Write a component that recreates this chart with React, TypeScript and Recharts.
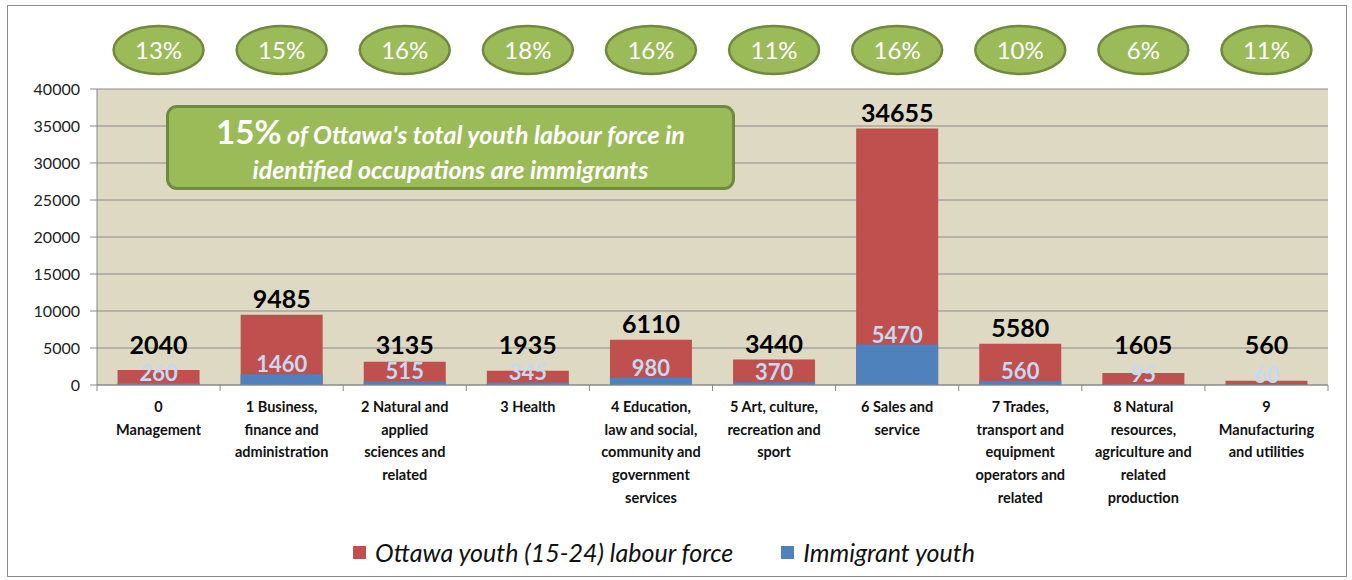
import { BarChart, Bar, XAxis, YAxis, CartesianGrid, LabelList, Legend } from "recharts"

const categories = [
  "0\nManagement",
  "1 Business,\nfinance and\nadministration",
  "2 Natural and\napplied\nsciences and\nrelated",
  "3 Health",
  "4 Education,\nlaw and social,\ncommunity and\ngovernment\nservices",
  "5 Art, culture,\nrecreation and\nsport",
  "6 Sales and\nservice",
  "7 Trades,\ntransport and\nequipment\noperators and\nrelated",
  "8 Natural\nresources,\nagriculture and\nrelated\nproduction",
  "9\nManufacturing\nand utilities",
]
const totalYouth = [2040, 9485, 3135, 1935, 6110, 3440, 34655, 5580, 1605, 560]
const immigrantYouth = [260, 1460, 515, 345, 980, 370, 5470, 560, 95, 60]
const shareLabels = ["13%", "15%", "16%", "18%", "16%", "11%", "16%", "10%", "6%", "11%"]
const yTicks = [0, 5000, 10000, 15000, 20000, 25000, 30000, 35000, 40000]

const data = categories.map((cat, i) => ({
  cat,
  total: totalYouth[i],
  immigrant: immigrantYouth[i],
}))

const FONT = "Lato, 'Noto Sans', sans-serif"
const RED = "#C0504D"
const BLUE = "#4F81BD"
const GREEN = "#9BBB59"
const GREEN_DARK = "#71893F"

function CategoryTick({ x, y, payload, index }: any) {
  const lines = String(payload.value).split("\n")
  const half = payload.offset || 61.5
  return (
    <g>
      <line x1={x - half} x2={x - half} y1={y - 8} y2={y - 2} stroke="#888" />
      {index === categories.length - 1 && (
        <line x1={x + half} x2={x + half} y1={y - 8} y2={y - 2} stroke="#888" />
      )}
      <text x={x} y={y} textAnchor="middle" fontFamily={FONT} fontWeight="bold" fontSize={14.5} fill="#111">
        {lines.map((l, i) => (
          <tspan key={i} x={x} dy={i === 0 ? 19 : 22.7}>
            {l}
          </tspan>
        ))}
      </text>
    </g>
  )
}

function ShareTick({ x, y, index }: any) {
  const cy = y - 31
  return (
    <g>
      <ellipse cx={x} cy={cy} rx={45} ry={24} fill={GREEN} stroke={GREEN_DARK} strokeWidth={2.5} />
      <text x={x} y={cy} dy="0.36em" textAnchor="middle" fontFamily={FONT} fontSize={24} fill="#fff">
        {shareLabels[index]}
      </text>
    </g>
  )
}

// total label sits above the bar, but never low enough to hit the immigrant label
function TotalLabel({ x, y, width, height, value }: any) {
  const base = Math.min(y - 7, y + height - 31)
  return (
    <text x={x + width / 2} y={base} textAnchor="middle" fontFamily={FONT} fontWeight="bold" fontSize={25} fill="#000">
      {value}
    </text>
  )
}

function LegendContent() {
  const items = [
    { name: "Ottawa youth (15-24) labour force", color: RED },
    { name: "Immigrant youth", color: BLUE },
  ]
  return (
    <div style={{ display: "flex", justifyContent: "center", alignItems: "center", height: 40, gap: 48 }}>
      {items.map((it) => (
        <div key={it.name} style={{ display: "flex", alignItems: "center", gap: 9 }}>
          <span style={{ width: 13, height: 13, background: it.color, display: "inline-block" }} />
          <span style={{ fontFamily: FONT, fontStyle: "italic", fontSize: 25, color: "#111" }}>{it.name}</span>
        </div>
      ))}
    </div>
  )
}

export default function App() {
  return (
    <div style={{ position: "absolute", left: 0, top: 0, width: 1352, height: 580, background: "#fff" }}>
      <div
        style={{
          position: "absolute",
          left: 7,
          top: 5,
          width: 1340,
          height: 572,
          border: "1px solid #8a8a8a",
          boxSizing: "border-box",
        }}
      />
      <div style={{ position: "absolute", left: 0, top: 0 }}>
        <BarChart
          width={1352}
          height={580}
          data={data}
          margin={{ top: 9, right: 24, bottom: 8, left: 0 }}
          barCategoryGap="16.7%"
        >
          <CartesianGrid vertical={false} stroke="#8c8c8c" fill="#DDD9C3" fillOpacity={1} />
          <XAxis
            xAxisId="top"
            orientation="top"
            dataKey="cat"
            height={80}
            axisLine={false}
            tickLine={false}
            tick={<ShareTick />}
            interval={0}
          />
          <XAxis
            xAxisId="main"
            dataKey="cat"
            height={147}
            stroke="#888"
            tickLine={false}
            tick={<CategoryTick />}
            interval={0}
          />
          <XAxis xAxisId="overlay" dataKey="cat" hide />
          <YAxis
            width={97}
            domain={[0, 40000]}
            ticks={yTicks}
            interval={0}
            stroke="#888"
            tickSize={7}
            tickMargin={10}
            tick={{ fontFamily: FONT, fontSize: 16, fill: "#222" }}
          />
          <Legend verticalAlign="bottom" height={40} content={<LegendContent />} />
          <Bar xAxisId="main" dataKey="total" name="Ottawa youth (15-24) labour force" fill={RED} isAnimationActive={false}>
            <LabelList dataKey="total" content={<TotalLabel />} />
          </Bar>
          <Bar xAxisId="overlay" dataKey="immigrant" name="Immigrant youth" fill={BLUE} isAnimationActive={false}>
            <LabelList
              dataKey="immigrant"
              position="top"
              offset={2}
              fill="#C6D9F1"
              fontFamily={FONT}
              fontWeight="bold"
              fontSize={22}
            />
          </Bar>
        </BarChart>
      </div>
      <div
        style={{
          position: "absolute",
          left: 166,
          top: 105,
          width: 569,
          height: 85,
          boxSizing: "border-box",
          paddingTop: 5,
          background: GREEN,
          border: `3px solid ${GREEN_DARK}`,
          borderRadius: 11,
          color: "#fff",
          fontFamily: FONT,
          fontWeight: "bold",
          textAlign: "center",
          display: "flex",
          flexDirection: "column",
          justifyContent: "center",
          lineHeight: "35px",
        }}
      >
        <div style={{ fontSize: 25, fontStyle: "italic" }}>
          <span style={{ fontSize: 33, fontStyle: "normal" }}>15%</span> of Ottawa's total youth labour force in
        </div>
        <div style={{ fontSize: 25, fontStyle: "italic" }}>identified occupations are immigrants</div>
      </div>
    </div>
  )
}
